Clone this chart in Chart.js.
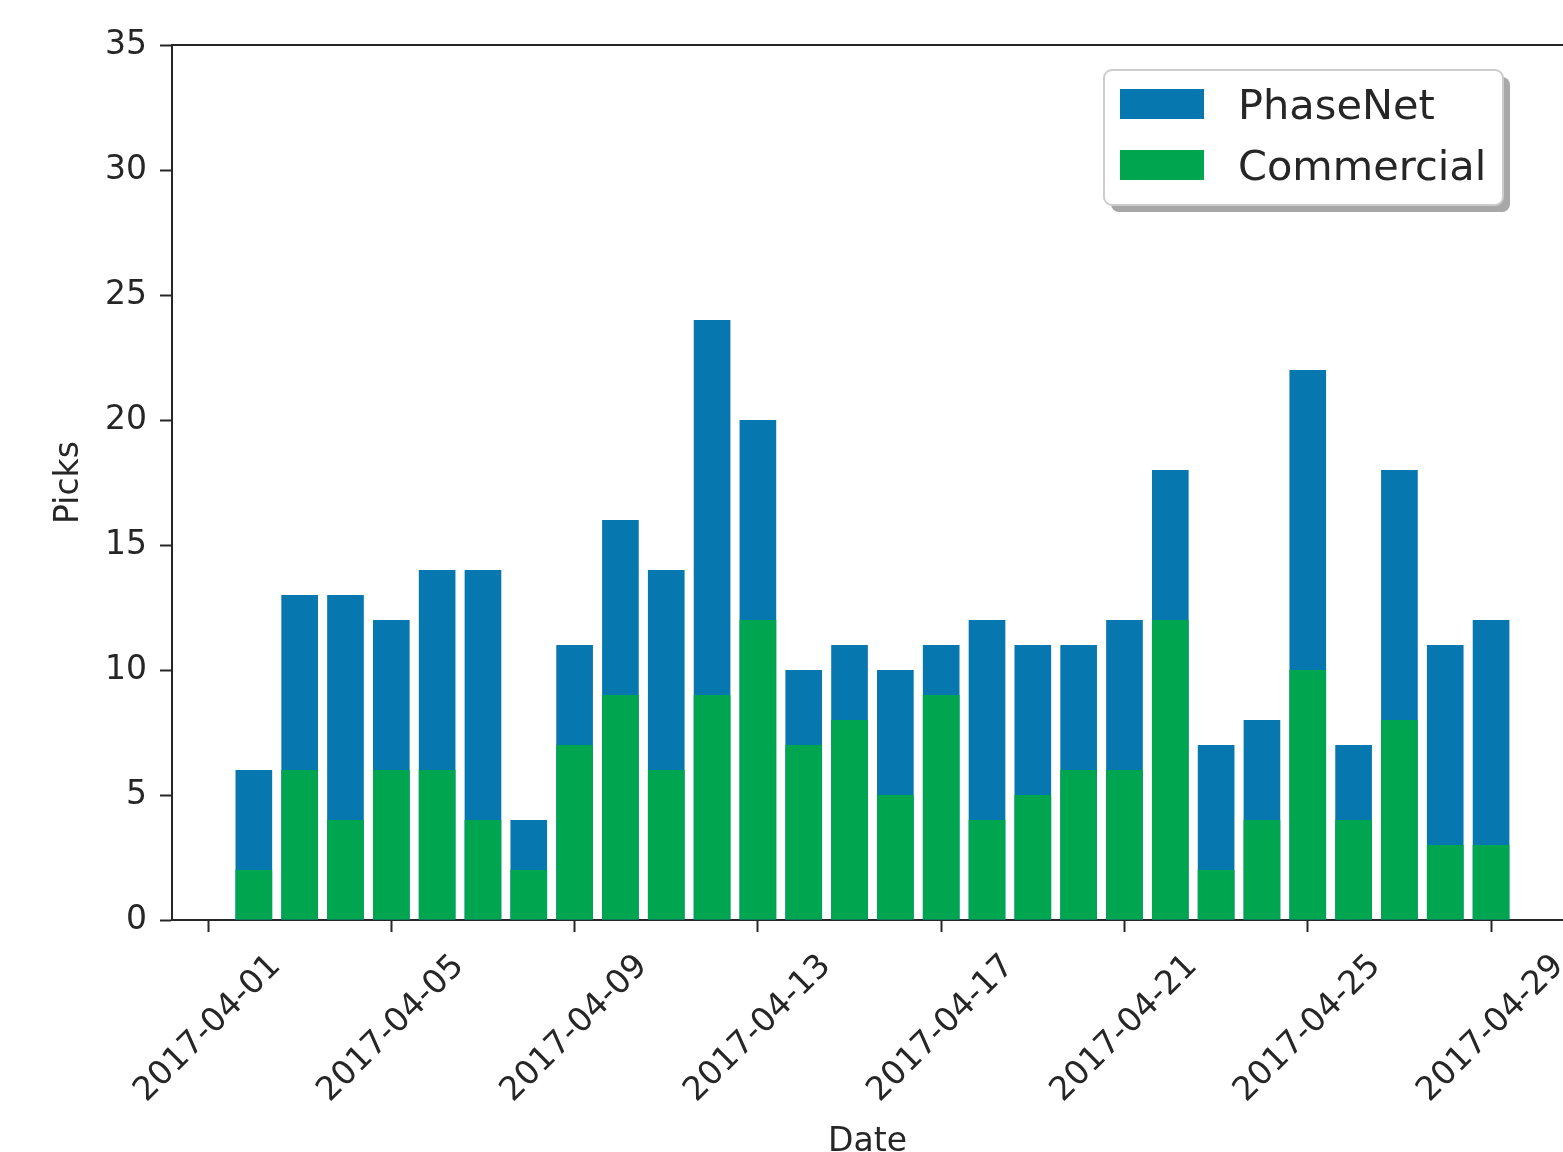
<!DOCTYPE html>
<html>
<head>
<meta charset="utf-8">
<script src="https://cdn.jsdelivr.net/npm/chart.js@4.4.1/dist/chart.umd.min.js"></script>
<style>
  html, body { margin: 0; padding: 0; background: #fff; }
</style>
</head>
<body>
<canvas id="picks_chart" width="1563" height="1152"></canvas>
<script>
// daily pick counts, April 2017
const days = [
  '2017-04-02', '2017-04-03', '2017-04-04', '2017-04-05', '2017-04-06', '2017-04-07', '2017-04-08',
  '2017-04-09', '2017-04-10', '2017-04-11', '2017-04-12', '2017-04-13', '2017-04-14', '2017-04-15',
  '2017-04-16', '2017-04-17', '2017-04-18', '2017-04-19', '2017-04-20', '2017-04-21', '2017-04-22',
  '2017-04-23', '2017-04-24', '2017-04-25', '2017-04-26', '2017-04-27', '2017-04-28', '2017-04-29'
];
const phasenet   = [6, 13, 13, 12, 14, 14, 4, 11, 16, 14, 24, 20, 10, 11, 10, 11, 12, 11, 11, 12, 18, 7, 8, 22, 7, 18, 11, 12];
const commercial = [2, 6, 4, 6, 6, 4, 2, 7, 9, 6, 9, 12, 7, 8, 5, 9, 4, 5, 6, 6, 12, 2, 4, 10, 4, 8, 3, 3];
const tickDates = ['2017-04-01', '2017-04-05', '2017-04-09', '2017-04-13', '2017-04-17', '2017-04-21', '2017-04-25', '2017-04-29'];

const ink = '#262626';
const font = '"DejaVu Sans"';
const startDay = Date.parse('2017-04-01');
const dayIndex = d => (Date.parse(d) - startDay) / 864e5;

// spine on top, rotated date labels and the boxed legend
const overlay = {
  id: 'overlay',
  afterDraw(chart) {
    const { ctx, chartArea, scales } = chart;
    ctx.save();
    ctx.strokeStyle = ink;
    ctx.lineWidth = 2;
    ctx.beginPath();
    ctx.moveTo(chartArea.left, chartArea.top);
    ctx.lineTo(chartArea.right, chartArea.top);
    ctx.stroke();

    ctx.font = '33px ' + font;
    ctx.fillStyle = ink;
    ctx.textAlign = 'center';
    ctx.textBaseline = 'middle';
    tickDates.forEach(d => {
      const x = scales.x.getPixelForValue(dayIndex(d));
      ctx.save();
      ctx.translate(x, chartArea.bottom + 109);
      ctx.rotate(-Math.PI / 4);
      ctx.fillText(d, 0, 0);
      ctx.restore();
    });

    // legend box
    const bx = chartArea.right - 459, by = chartArea.top + 25, bw = 399, bh = 135;
    ctx.fillStyle = '#a8a8a8';
    ctx.beginPath();
    ctx.roundRect(bx + 7, by + 7, bw, bh, 8);
    ctx.fill();
    ctx.fillStyle = '#fff';
    ctx.strokeStyle = '#cccccc';
    ctx.lineWidth = 2;
    ctx.beginPath();
    ctx.roundRect(bx, by, bw, bh, 8);
    ctx.fill();
    ctx.stroke();

    ctx.font = '41.5px ' + font;
    ctx.textAlign = 'left';
    ctx.textBaseline = 'alphabetic';
    chart.data.datasets.forEach((ds, i) => {
      const rowY = by + 19 + i * 61;
      ctx.fillStyle = ds.backgroundColor;
      ctx.fillRect(bx + 16, rowY, 84, 30);
      ctx.fillStyle = ink;
      ctx.fillText(ds.label, bx + 134, rowY + 29.5);
    });
    ctx.restore();
  }
};

new Chart(document.getElementById('picks_chart'), {
  type: 'bar',
  data: {
    datasets: [
      {
        label: 'PhaseNet',
        data: days.map((d, i) => ({ x: dayIndex(d), y: phasenet[i] })),
        backgroundColor: '#0777b0',
        order: 2
      },
      {
        label: 'Commercial',
        data: days.map((d, i) => ({ x: dayIndex(d), y: commercial[i] })),
        backgroundColor: '#00a54f',
        order: 1
      }
    ]
  },
  options: {
    responsive: false,
    animation: false,
    grouped: false,
    barPercentage: 0.8,
    categoryPercentage: 1.0,
    layout: { padding: { top: 45, left: 0, right: 0, bottom: 0 } },
    plugins: {
      legend: { display: false },
      tooltip: { enabled: false }
    },
    scales: {
      x: {
        type: 'linear',
        offset: false,
        min: -0.786,
        max: 29.57,
        afterBuildTicks: s => { s.ticks = tickDates.map(d => ({ value: dayIndex(d) })); },
        afterFit: s => { s.height = 232; },
        border: { color: ink, width: 2 },
        grid: { offset: false, drawOnChartArea: false, drawTicks: true, tickLength: 12, tickColor: ink, tickWidth: 2 },
        ticks: { display: false },
        title: {
          display: true,
          text: 'Date',
          color: ink,
          font: { family: 'DejaVu Sans', size: 33 },
          padding: { top: 0, bottom: -10 }
        }
      },
      y: {
        min: 0,
        max: 35,
        afterFit: s => { s.width = 172; },
        border: { color: ink, width: 2 },
        grid: { drawOnChartArea: false, drawTicks: true, tickLength: 12, tickColor: ink, tickWidth: 2 },
        ticks: {
          stepSize: 5,
          padding: 13,
          color: ink,
          font: { family: 'DejaVu Sans', size: 33 }
        },
        title: {
          display: true,
          text: 'Picks',
          color: ink,
          font: { family: 'DejaVu Sans', size: 33 },
          padding: { top: 50, bottom: 0 }
        }
      }
    }
  },
  plugins: [overlay]
});
</script>
</body>
</html>
